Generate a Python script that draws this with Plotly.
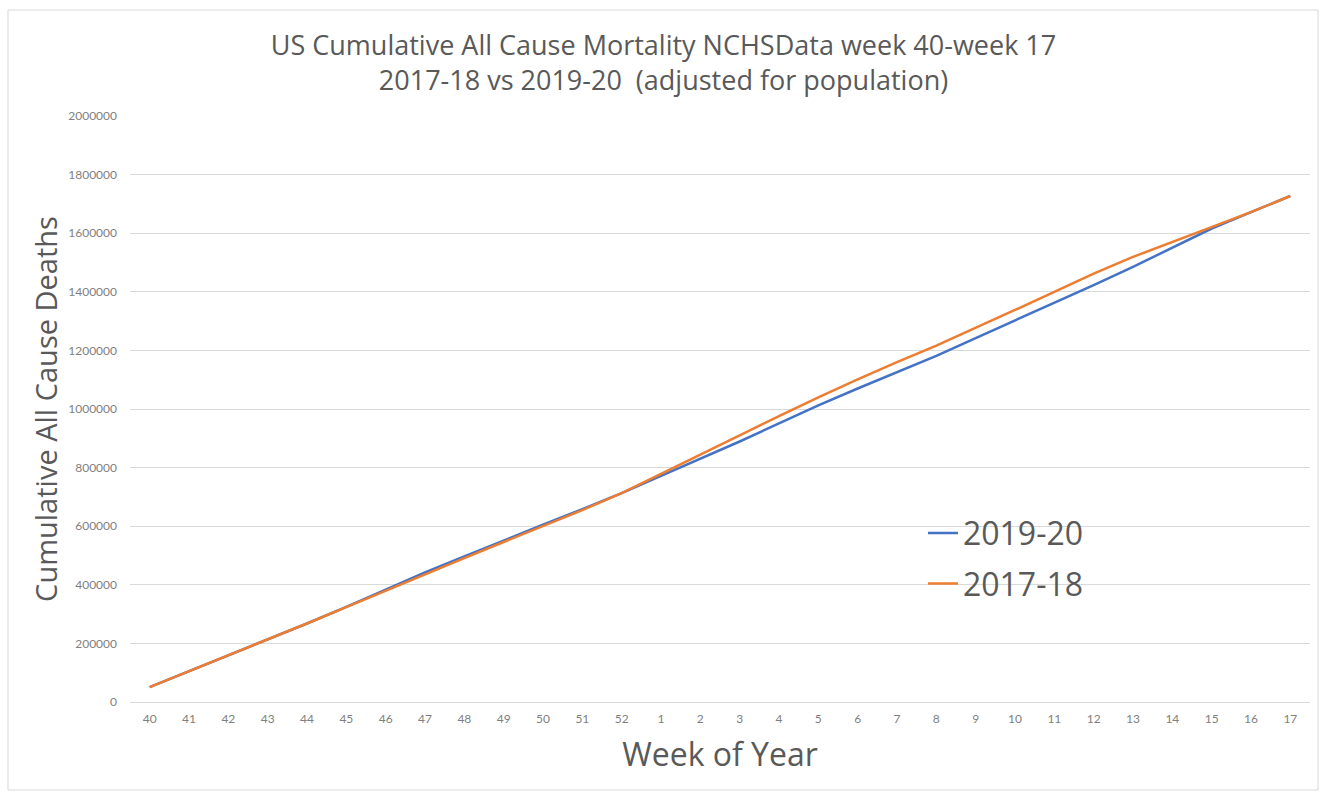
import plotly.graph_objects as go

weeks = ["40", "41", "42", "43", "44", "45", "46", "47", "48", "49", "50", "51", "52",
         "1", "2", "3", "4", "5", "6", "7", "8", "9", "10", "11", "12", "13", "14", "15", "16", "17"]

deaths_2019_20 = [51000, 105000, 158000, 212000, 268000, 325000, 383000, 442000, 497000, 552000,
                  605000, 658000, 713000, 772000, 830000, 889000, 951000, 1012000, 1070000, 1126000,
                  1181000, 1242000, 1302000, 1362000, 1423000, 1485000, 1550000, 1616000, 1672000, 1727000]

deaths_2017_18 = [51000, 105000, 158000, 212000, 268000, 324000, 380000, 437000, 491000, 546000,
                  600000, 655000, 713000, 778000, 843000, 910000, 976000, 1040000, 1101000, 1160000,
                  1216000, 1276000, 1338000, 1400000, 1462000, 1519000, 1570000, 1621000, 1672000, 1727000]

y_ticks = [0, 200000, 400000, 600000, 800000, 1000000, 1200000, 1400000, 1600000, 1800000, 2000000]

TFONT = "Open Sans"
FONT = "Lato"
fig = go.Figure()
fig.add_trace(go.Scatter(x=weeks, y=deaths_2019_20, mode="lines", name="2019-20",
                         line=dict(color="#4472C4", width=2.5), legendgroup="a"))
fig.add_trace(go.Scatter(x=weeks, y=deaths_2017_18, mode="lines", name="2017-18",
                         line=dict(color="#ED7D31", width=2.5), legendgroup="b"))

fig.update_layout(
    width=1327, height=793,
    paper_bgcolor="white", plot_bgcolor="white",
    margin=dict(l=130, r=17, t=116, b=91),
    font=dict(family=FONT, color="#595959"),
    title=dict(text="US Cumulative All Cause Mortality NCHSData week 40-week 17<br>2017-18 vs 2019-20  (adjusted for population)",
               x=0.5, xanchor="center", y=1 - 55 / 793, yanchor="middle", yref="container",
               font=dict(family=TFONT, size=27, color="#595959")),
    xaxis=dict(type="category", categoryorder="array", categoryarray=weeks, range=[-0.5, 29.5],
               showgrid=False, showline=False, zeroline=False, ticks="",
               tickfont=dict(size=12, color="#7f7f7f"), ticklabelstandoff=8,
               title=dict(text="Week of Year", font=dict(family=TFONT, size=32, color="#595959"), standoff=18)),
    yaxis=dict(range=[0, 2000000], tickvals=y_ticks, ticktext=[str(v) for v in y_ticks],
               showgrid=True, gridcolor="#d9d9d9", gridwidth=1, zeroline=True,
               zerolinecolor="#d9d9d9", zerolinewidth=1, showline=False, ticks="",
               tickfont=dict(size=12, color="#7f7f7f"), ticklabelstandoff=12,
               title=dict(text="Cumulative All Cause Deaths", font=dict(family=TFONT, size=29, color="#595959"), standoff=2)),
    legend=dict(x=0.672, y=0.335, xanchor="left", yanchor="top", bgcolor="rgba(255,255,255,0)",
                font=dict(family=TFONT, size=32, color="#595959"), tracegroupgap=6, traceorder="grouped",
                itemwidth=30),
    shapes=[dict(type="rect", xref="paper", yref="paper",
                 x0=(8 - 130) / 1180, x1=(1318 - 130) / 1180,
                 y0=(702 - 790) / 586, y1=(702 - 10) / 586,
                 line=dict(color="#d9d9d9", width=1), fillcolor="rgba(0,0,0,0)", layer="below")],
)

fig.write_html("out.html", config={"displayModeBar": False},
               post_script="document.body.style.margin='0';document.body.style.overflow='hidden';")
